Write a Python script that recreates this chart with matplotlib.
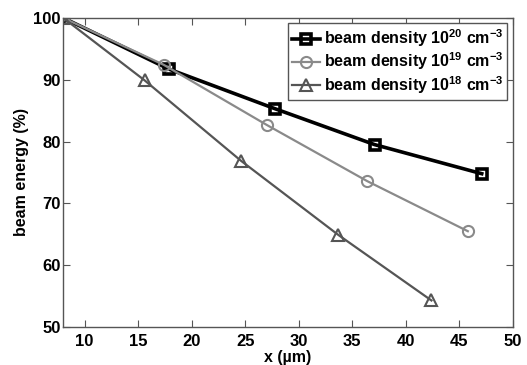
import numpy as np
import matplotlib
matplotlib.use("Agg")
import matplotlib.pyplot as plt

# beam energy vs propagation distance for three beam densities
x_1e20 = [8.0, 17.9, 27.8, 37.1, 47.1]
e_1e20 = [100.0, 91.7, 85.3, 79.5, 74.8]

x_1e19 = [8.0, 17.4, 27.0, 36.4, 45.8]
e_1e19 = [100.0, 92.4, 82.7, 73.6, 65.5]

x_1e18 = [8.0, 15.6, 24.6, 33.7, 42.4]
e_1e18 = [100.0, 89.9, 76.9, 64.9, 54.3]

labels = [r"beam density 10$^{20}$ cm$^{-3}$",
          r"beam density 10$^{19}$ cm$^{-3}$",
          r"beam density 10$^{18}$ cm$^{-3}$"]

plt.rcParams["font.family"] = ["Liberation Sans", "DejaVu Sans"]
plt.rcParams["font.weight"] = "bold"
plt.rcParams["mathtext.fontset"] = "custom"
plt.rcParams["mathtext.rm"] = "Liberation Sans:bold"
plt.rcParams["mathtext.it"] = "Liberation Sans:bold"
plt.rcParams["mathtext.bf"] = "Liberation Sans:bold"
plt.rcParams["mathtext.default"] = "rm"

fig = plt.figure(figsize=(5.27, 3.65), dpi=100)
ax = fig.add_axes([0.12, 0.104, 0.853, 0.847])

ax.plot(x_1e20, e_1e20, color="black", lw=2.6, marker="s", ms=6.5,
        mfc="none", mec="black", mew=2.6, label=labels[0])
ax.plot(x_1e19, e_1e19, color="#8a8a8a", lw=1.6, marker="o", ms=8,
        mfc="none", mec="#8a8a8a", mew=1.5, label=labels[1])
ax.plot(x_1e18, e_1e18, color="#555555", lw=1.6, marker="^", ms=9,
        mfc="none", mec="#555555", mew=1.5, label=labels[2])

ax.set_xlim(8, 50)
ax.set_ylim(50, 100)
ax.set_xticks(np.arange(10, 51, 5))
ax.set_yticks(np.arange(50, 101, 10))
ax.tick_params(direction="in", top=True, right=True, length=5,
               labelsize=12, color="#555555", pad=2)
ax.tick_params(axis="x", pad=5)
for sp in ax.spines.values():
    sp.set_color("#555555")
    sp.set_linewidth(1.0)

ax.set_xlabel("x (µm)", fontsize=11.5, fontweight="bold", labelpad=1)
ax.set_ylabel("beam energy (%)", fontsize=11.5, fontweight="bold", labelpad=3)

leg = ax.legend(loc="upper right", fontsize=11.5, handlelength=1.8,
                handletextpad=0.2, labelspacing=0.1, borderpad=0.25,
                borderaxespad=0.35, fancybox=False, framealpha=1)
leg.get_frame().set_edgecolor("#555555")
leg.get_frame().set_linewidth(1.0)

fig.savefig("out.png", dpi=100)
